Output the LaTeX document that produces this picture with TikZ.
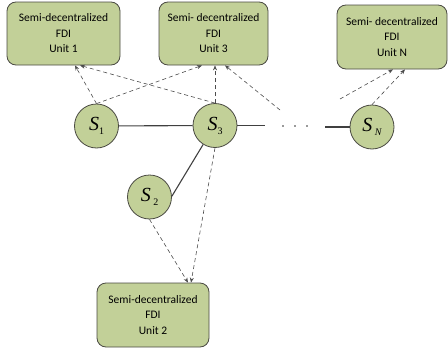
\documentclass[tikz,border=0pt]{standalone}
\usepackage{fontspec}
\setmainfont{Carlito}
\newfontfamily\timesfont{Liberation Serif}
\usetikzlibrary{arrows.meta,calc}
\definecolor{boxfill}{HTML}{C2D098}
\definecolor{edge}{HTML}{4A4A42}
\tikzset{
  fdibox/.style={draw=edge, line width=0.8pt, fill=boxfill, rounded corners=9pt,
    align=center, font=\fontsize{11.5}{15.5}\selectfont, inner sep=0pt},
  sensor/.style={circle, draw=edge, line width=0.8pt, fill=boxfill, minimum size=44pt, inner sep=0pt},
  link/.style={draw=black!75, line width=1.1pt},
  sig/.style={draw=black!70, line width=0.6pt, dash pattern=on 4pt off 3pt, -{Stealth[length=5pt,width=4pt]}},
  dotmark/.style={fill=black!80, draw=none}
}
\newcommand{\slabel}[1]{{\timesfont\itshape\fontsize{20}{20}\selectfont S}{\timesfont\fontsize{10}{10}\selectfont\raisebox{-4pt}{#1}}}
\begin{document}
\begin{tikzpicture}[x=1pt,y=-1pt]
\useasboundingbox (0,0) rectangle (448,351);
% FDI boxes
\node[fdibox, minimum width=113pt, minimum height=63pt] (b1) at (63.5,33.5) {Semi-decentralized\\FDI\\Unit 1};
\node[fdibox, minimum width=109pt, minimum height=63pt] (b3) at (213.5,33.5) {Semi- decentralized\\FDI\\Unit 3};
\node[fdibox, minimum width=110pt, minimum height=64pt] (bN) at (392,37) {Semi- decentralized\\FDI\\Unit N};
\node[fdibox, minimum width=112pt, minimum height=64pt] (b2) at (153,315) {Semi-decentralized\\FDI\\Unit 2};
% sensors
\node[sensor] (s1) at (96.5,126) {\slabel{1}};
\node[sensor] (s3) at (215,125.5) {\slabel{3}};
\node[sensor] (sN) at (372,127) {\slabel{\ \itshape N}};
\node[sensor] (s2) at (149.5,197) {\slabel{\ 2}};
% dots
\node[minimum width=60pt, minimum height=4pt, inner sep=0pt] (dots) at (295,126) {};
\fill[dotmark] ([xshift=-12pt]dots.center) circle (0.9pt);
\fill[dotmark] (dots.center) circle (0.9pt);
\fill[dotmark] ([xshift=12pt]dots.center) circle (0.9pt);
% solid links
\draw[link] (s1) -- (s3);
\draw[link] (s3.east) -- (s3.east -| dots.west);
\draw[link] (sN.west -| dots.east) -- (sN.west);
\draw[link] (s3.238) -- (s2.2);
% free ends
\coordinate (f1) at (280,110);
\coordinate (f2) at (340,99);
% dashed signal arrows
\draw[sig] (s1.north) -- ([xshift=11.5pt]b1.south);
\draw[sig] (s1.north) -- ([xshift=-11.5pt]b3.south);
\draw[sig] (s3.north) -- ([xshift=16.5pt]b1.south);
\draw[sig] (s3.north) -- ([xshift=1.5pt]b3.south);
\draw[sig] (f1) -- ([xshift=11.5pt]b3.south);
\draw[sig] (f2) -- ([xshift=1pt]bN.south);
\draw[sig] (sN.north) -- ([xshift=13pt]bN.south);
\draw[sig] (s3.south) -- ([xshift=38pt]b2.north);
\draw[sig] (s2.south) -- ([xshift=35pt]b2.north);
\end{tikzpicture}
\end{document}
